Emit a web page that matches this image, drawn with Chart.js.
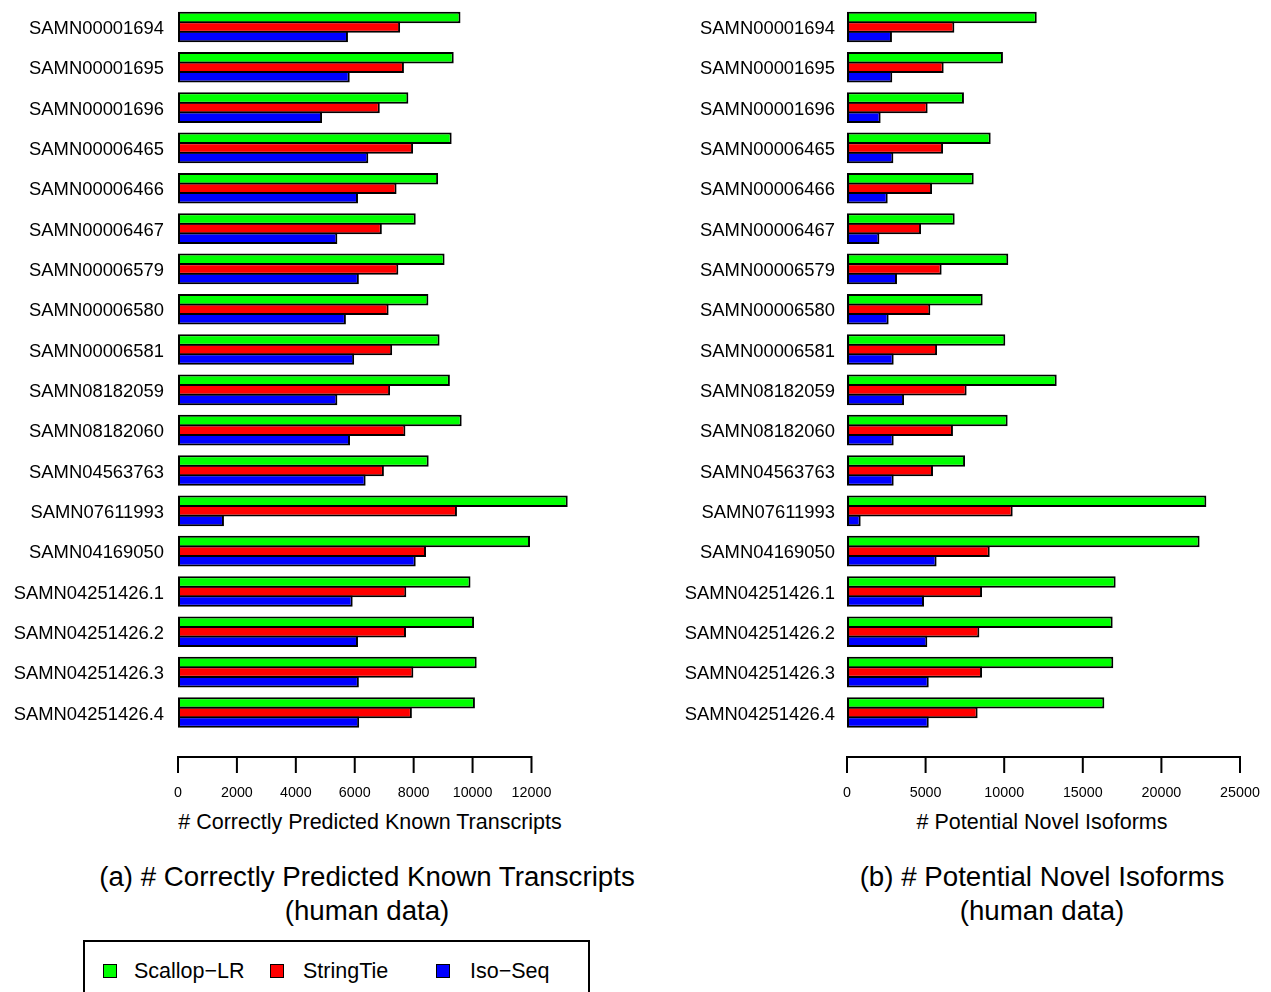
<!DOCTYPE html>
<html>
<head>
<meta charset="utf-8">
<script src="https://cdn.jsdelivr.net/npm/chart.js@4.4.1/dist/chart.umd.min.js"></script>
<style>
  html, body { margin:0; padding:0; background:#fff; }
  body { width:1271px; height:992px; overflow:hidden; position:relative; font-family:"Liberation Sans", Arial, Helvetica, sans-serif; color:#000; }
  canvas { position:absolute; top:0; }
  .t { position:absolute; white-space:nowrap; transform:translate(-50%,-50%); line-height:1; }
  .legend { position:absolute; left:83px; top:940px; width:507px; height:80px; border:2px solid #000; box-sizing:border-box; }
  .sw { position:absolute; width:14px; height:14px; border:1.5px solid #000; box-sizing:border-box; top:22px; }
  .lt { position:absolute; top:30px; transform:translateY(-50%); font-size:21.5px; line-height:1; white-space:nowrap; }
</style>
</head>
<body>
<canvas id="cKnown" width="620" height="810" style="left:0px"></canvas>
<canvas id="cNovel" width="631" height="810" style="left:640px"></canvas>

<div class="t" style="left:370px; top:823px; font-size:21.5px;"># Correctly Predicted Known Transcripts</div>
<div class="t" style="left:1042px; top:823px; font-size:21.5px;"># Potential Novel Isoforms</div>
<div class="t" style="left:367px; top:877px; font-size:27.7px;">(a) # Correctly Predicted Known Transcripts</div>
<div class="t" style="left:367px; top:911px; font-size:27.7px;">(human data)</div>
<div class="t" style="left:1042px; top:877px; font-size:27.7px;">(b) # Potential Novel Isoforms</div>
<div class="t" style="left:1042px; top:911px; font-size:27.7px;">(human data)</div>

<div class="legend">
  <div class="sw" style="left:18px; background:#00ff00;"></div><div class="lt" style="left:49px;">Scallop−LR</div>
  <div class="sw" style="left:185px; background:#ff0000;"></div><div class="lt" style="left:218px;">StringTie</div>
  <div class="sw" style="left:351px; background:#0000ff;"></div><div class="lt" style="left:385px;">Iso−Seq</div>
</div>

<script>
// ---------- data ----------
const categories = ["SAMN00001694","SAMN00001695","SAMN00001696","SAMN00006465","SAMN00006466","SAMN00006467","SAMN00006579","SAMN00006580","SAMN00006581","SAMN08182059","SAMN08182060","SAMN04563763","SAMN07611993","SAMN04169050","SAMN04251426.1","SAMN04251426.2","SAMN04251426.3","SAMN04251426.4"];
const seriesNames = ["Scallop-LR","StringTie","Iso-Seq"];

const scallopKnown   = [9590, 9360, 7820, 9290, 8830, 8070, 9050, 8500, 8880, 9230, 9630, 8510, 13230, 11950, 9930, 10050, 10140, 10080];
const stringtieKnown = [7540, 7670, 6850, 7980, 7420, 6920, 7480, 7150, 7270, 7200, 7720, 6990, 9470, 8420, 7750, 7740, 7990, 7940];
const isoseqKnown    = [5770, 5830, 4890, 6460, 6110, 5410, 6140, 5700, 5980, 5410, 5840, 6370, 1560, 8070, 5930, 6110, 6140, 6150];

const scallopNovel   = [12070, 9920, 7440, 9140, 8060, 6850, 10260, 8630, 10070, 13340, 10220, 7510, 22860, 22430, 17090, 16900, 16940, 16370];
const stringtieNovel = [6830, 6150, 5130, 6110, 5410, 4710, 6020, 5300, 5730, 7610, 6740, 5470, 10540, 9080, 8590, 8420, 8590, 8310];
const isoseqNovel    = [2860, 2880, 2140, 2950, 2590, 2060, 3180, 2650, 2970, 3630, 2970, 2970, 870, 5700, 4900, 5110, 5200, 5200];

const knownTicks = [0, 2000, 4000, 6000, 8000, 10000, 12000];
const novelTicks = [0, 5000, 10000, 15000, 20000, 25000];

// ---------- styling ----------
const colors = ["#00ff00", "#ff0000", "#0000ff"];
const FONT = "'Liberation Sans', Arial, Helvetica, sans-serif";
Chart.defaults.font.family = FONT;
Chart.defaults.color = "#000";

// R-style detached x axis drawn from the chart's own x scale
const rAxis = {
  id: 'rAxis',
  afterDraw(chart, args, o) {
    const xs = chart.scales.x, ctx = chart.ctx;
    const vals = o.ticks;
    const y0 = o.y;
    ctx.save();
    ctx.strokeStyle = '#000';
    ctx.lineWidth = 2;
    ctx.beginPath();
    ctx.moveTo(xs.getPixelForValue(vals[0]), y0);
    ctx.lineTo(xs.getPixelForValue(vals[vals.length - 1]), y0);
    vals.forEach(v => {
      const p = xs.getPixelForValue(v);
      ctx.moveTo(p, y0 - 1);
      ctx.lineTo(p, y0 + o.len);
    });
    ctx.stroke();
    ctx.fillStyle = '#000';
    ctx.font = o.fontSize + 'px ' + FONT;
    ctx.textAlign = 'center';
    ctx.textBaseline = 'middle';
    vals.forEach(v => ctx.fillText(String(v), xs.getPixelForValue(v), o.labelY));
    ctx.restore();
  }
};

function makeChart(id, s1, s2, s3, xmax, ticks, yAxisWidth, labelPad, padRight) {
  const ds = [s1, s2, s3].map((d, i) => ({
    label: seriesNames[i],
    data: d,
    backgroundColor: colors[i],
    borderColor: '#000',
    borderWidth: 2,
    borderSkipped: false,
    barPercentage: 1.2,
    categoryPercentage: 0.712
  }));
  return new Chart(document.getElementById(id), {
    type: 'bar',
    data: { labels: categories, datasets: ds },
    plugins: [rAxis],
    options: {
      indexAxis: 'y',
      responsive: false,
      animation: false,
      devicePixelRatio: 1,
      layout: { padding: { left: 0, right: padRight, top: 6.8, bottom: 810 - 732.6 } },
      plugins: {
        legend: { display: false },
        tooltip: { enabled: false },
        rAxis: { ticks: ticks, y: 757, len: 16, labelY: 793, fontSize: 14.3 }
      },
      scales: {
        x: { display: false, min: 0, max: xmax },
        y: {
          offset: true,
          grid: { display: false, drawTicks: false },
          border: { display: false },
          ticks: { padding: labelPad, labelOffset: 2, font: { size: 18.4 }, color: '#000', autoSkip: false },
          afterFit: (scale) => {
            scale.width = yAxisWidth;
            scale.paddingTop = 0;
            scale.paddingBottom = 0;
          }
        }
      }
    }
  });
}

// left: 0 -> 178px, 12000 -> 531.5px  => max 14000 -> 590.4px
makeChart('cKnown', scallopKnown, stringtieKnown, isoseqKnown, 14000, knownTicks, 178, 14, 620 - 590.4);
// right: 0 -> 847px, 25000 -> 1240px (canvas starts at 640)
makeChart('cNovel', scallopNovel, stringtieNovel, isoseqNovel, 25000, novelTicks, 207, 12, 31);
</script>
</body>
</html>
